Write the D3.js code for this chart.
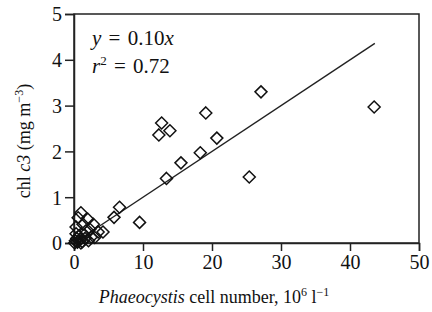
<!DOCTYPE html>
<html>
<head>
<meta charset="utf-8">
<script src="https://cdn.jsdelivr.net/npm/d3@7"></script>
<style>
  body { margin: 0; background: #fff; }
  svg { font-family: "Liberation Serif", "DejaVu Serif", serif; }
</style>
</head>
<body>
<div id="chart"></div>
<script>
// cell number (10^6 l^-1) and chl c3 (mg m^-3)
var cellNumber = [43.5, 27.1, 25.4, 19.1, 12.7, 12.3, 13.9, 20.7, 18.3, 15.5, 13.4, 9.5, 6.6, 5.8, 4.2,
                  1.0, 0.6, 2.0, 1.3, 2.8, 0.3, 1.7, 3.5, 0.7, 2.5, 0.2, 0.5, 0.9, 1.2, 1.6, 2.1,
                  0.1, 0.4, 1.0, 0.3, 1.5, 2.3, 3.0];
var chlC3 = [2.97, 3.30, 1.44, 2.84, 2.62, 2.36, 2.45, 2.29, 1.97, 1.75, 1.41, 0.45, 0.78, 0.56, 0.24,
             0.66, 0.55, 0.52, 0.41, 0.41, 0.35, 0.26, 0.24, 0.15, 0.13, 0.05, 0.02, 0.08, 0.03, 0.10, 0.05,
             0.00, 0.10, 0.00, 0.20, 0.18, 0.30, 0.12];
var xTicks = [0, 10, 20, 30, 40, 50];
var yTicks = [0, 1, 2, 3, 4, 5];
var slope = 0.10;
var fitRange = [0, 43.6];

var margin = {top: 14, right: 13, bottom: 69, left: 74};
var width = 432 - margin.left - margin.right;
var height = 312 - margin.top - margin.bottom;

var svg = d3.select("#chart").append("svg")
            .attr("width", 432)
            .attr("height", 312);

var g = svg.append("g")
           .attr("transform", "translate(" + margin.left + "," + margin.top + ")");

var x = d3.scaleLinear().domain([0, 50]).range([0, width]);
var y = d3.scaleLinear().domain([0, 5]).range([height, 0]);

// frame (top and right sides)
g.append("rect")
  .attr("width", width).attr("height", height)
  .attr("fill", "none").attr("stroke", "#222").attr("stroke-width", 1.5);

var xAxis = g.append("g")
  .attr("transform", "translate(0," + height + ")")
  .call(d3.axisBottom(x).tickValues(xTicks).tickFormat(d3.format("d"))
          .tickSizeOuter(0).tickSize(8).tickPadding(4));

var yAxis = g.append("g")
  .call(d3.axisLeft(y).tickValues(yTicks).tickFormat(d3.format("d"))
          .tickSizeOuter(0).tickSize(9).tickPadding(3));

[xAxis, yAxis].forEach(function(a) {
  a.attr("font-family", null).attr("font-size", null);
  a.selectAll("path, line").attr("stroke", "#222").attr("stroke-width", 1.5);
  a.selectAll("text").attr("fill", "#111").style("font-size", "20px");
});
yAxis.selectAll("text").attr("dy", "0.34em");

// regression line
g.append("line")
  .attr("x1", x(fitRange[0])).attr("y1", y(slope * fitRange[0]))
  .attr("x2", x(fitRange[1])).attr("y2", y(slope * fitRange[1]))
  .attr("stroke", "#222").attr("stroke-width", 1.4);

// diamonds
var pts = cellNumber.map(function(d, i) { return [d, chlC3[i]]; });
var r = 6;
g.selectAll("path.pt").data(pts).enter().append("path")
  .attr("class", "pt")
  .attr("d", "M0," + (-r) + "L" + r + ",0L0," + r + "L" + (-r) + ",0Z")
  .attr("transform", function(d) { return "translate(" + x(d[0]) + "," + y(d[1]) + ")"; })
  .attr("fill", "none").attr("stroke", "#111").attr("stroke-width", 1.5);

// equation text
var eq = g.append("text").attr("x", 18).attr("y", 31).style("font-size", "21px")
  .style("word-spacing", "2px").attr("fill", "#111");
eq.append("tspan").style("font-style", "italic").text("y");
eq.append("tspan").text(" = 0.10");
eq.append("tspan").style("font-style", "italic").text("x");

var r2 = g.append("text").attr("x", 18).attr("y", 59).style("font-size", "21px")
  .style("word-spacing", "2px").attr("fill", "#111");
r2.append("tspan").style("font-style", "italic").text("r");
r2.append("tspan").attr("dy", -8).style("font-size", "13px").text("2");
r2.append("tspan").attr("dy", 8).text(" = 0.72");

// x label
var xl = svg.append("text").attr("x", 214).attr("y", 303)
  .attr("text-anchor", "middle").style("font-size", "18px").attr("fill", "#111");
xl.append("tspan").style("font-style", "italic").text("Phaeocystis");
xl.append("tspan").text(" cell number, 10");
xl.append("tspan").attr("dy", -7).style("font-size", "12px").text("6");
xl.append("tspan").attr("dy", 7).text(" l");
xl.append("tspan").attr("dy", -7).style("font-size", "12px").text("\u22121");

// y label
var yl = svg.append("text")
  .attr("transform", "translate(30,141) rotate(-90)")
  .attr("text-anchor", "middle").style("font-size", "18px").attr("fill", "#111");
yl.append("tspan").text("chl ");
yl.append("tspan").style("font-style", "italic").text("c3");
yl.append("tspan").text(" (mg m");
yl.append("tspan").attr("dy", -7).style("font-size", "12px").text("\u22123");
yl.append("tspan").attr("dy", 7).text(")");
</script>
</body>
</html>
